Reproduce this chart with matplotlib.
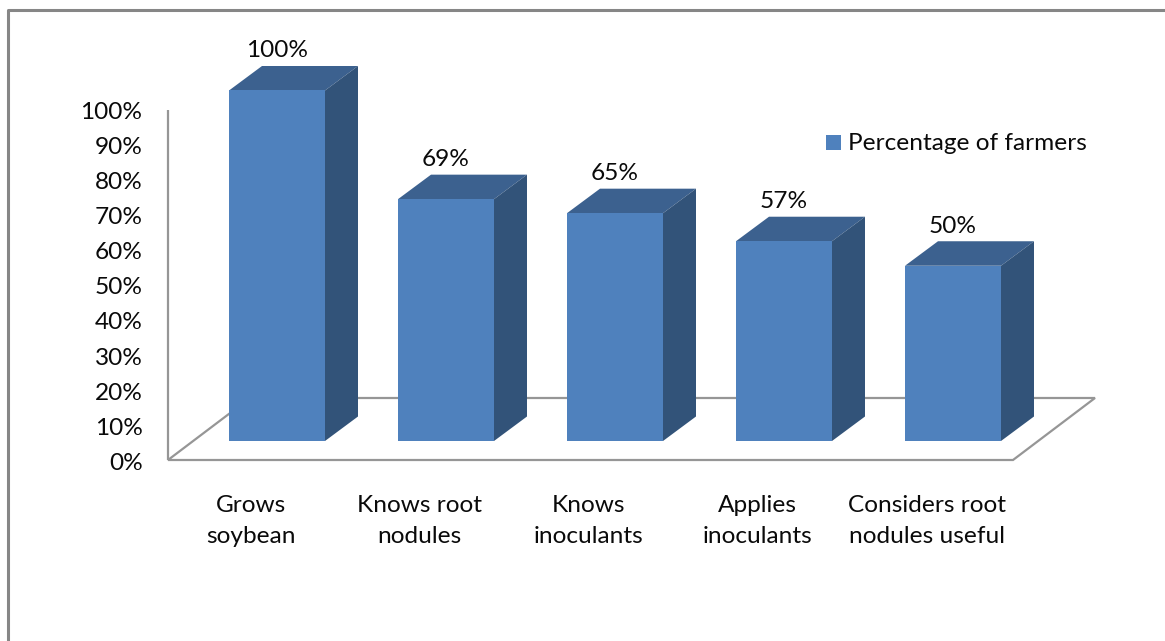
import matplotlib
matplotlib.use('Agg')
import matplotlib.pyplot as plt
from matplotlib.patches import Polygon, Rectangle

plt.rcParams['font.family'] = ['Lato', 'DejaVu Sans']

categories = ['Grows\nsoybean', 'Knows root\nnodules', 'Knows\ninoculants',
              'Applies\ninoculants', 'Considers root\nnodules useful']
values = [100, 69, 65, 57, 50]
value_labels = ['100%', '69%', '65%', '57%', '50%']
axis_ticks = [0, 10, 20, 30, 40, 50, 60, 70, 80, 90, 100]
series_name = 'Percentage of farmers'

FRONT = '#4f81bd'
TOP = '#3c618f'
SIDE = '#325379'
GRID = '#969696'
W, H = 1165, 641
FS = 17.6

# scale of the front plane of the bars, in pixels
PX_X = 169.0
PX_Y = 3.505
X0 = 277.0
Y0 = 441.0

fig = plt.figure(figsize=(W / 100, H / 100), dpi=100)
ax = fig.add_axes([0, 0, 1, 1])
ax.set_xlim(-X0 / PX_X, (W - X0) / PX_X)
ax.set_ylim(-(H - Y0) / PX_Y, Y0 / PX_Y)
ax.axis('off')

bar_w = 96 / PX_X
dx = 33 / PX_X   # depth of the bars
dy = 24.5 / PX_Y

# floor and wall: the wall sits a bit lower than the bars front plane
floor_dy = -19 / PX_Y
left = (168 - X0) / PX_X
right = (1013 - X0) / PX_X
fdx = 82 / PX_X
fdy = 62 / PX_Y
ax.plot([left, left], [floor_dy, floor_dy + 100], color=GRID, lw=1.6, solid_capstyle='butt')
ax.plot([left + fdx, right + fdx, right, left, left + fdx],
        [floor_dy + fdy, floor_dy + fdy, floor_dy, floor_dy, floor_dy + fdy],
        color=GRID, lw=1.6, solid_joinstyle='miter')

for i, v in enumerate(values):
    l, r = i - bar_w / 2, i + bar_w / 2
    ax.add_patch(Polygon([(l, v), (r, v), (r + dx, v + dy), (l + dx, v + dy)], fc=TOP, ec='none', zorder=3))
    ax.add_patch(Polygon([(r, 0), (r + dx, dy), (r + dx, v + dy), (r, v)], fc=SIDE, ec='none', zorder=3))
    ax.bar(i, v, width=bar_w, color=FRONT, zorder=4)
    ax.text(i, v + dy + 1.3, value_labels[i], ha='center', va='bottom', fontsize=FS, color='#0a0a0a')
    ax.text(i - 0.155, -(521 - Y0) / PX_Y, categories[i], ha='center', va='center',
            fontsize=FS, color='#0a0a0a', linespacing=1.55)

for t in axis_ticks:
    ax.text(-(277 - 142.5) / PX_X, floor_dy + t - 0.9, '%d%%' % t, ha='right', va='center', fontsize=FS, color='#0a0a0a')

# legend
ax.add_patch(Rectangle(((826 - X0) / PX_X, (Y0 - 150) / PX_Y), 15 / PX_X, 15 / PX_Y, fc=FRONT, ec='none'))
ax.text((848 - X0) / PX_X, (Y0 - 144) / PX_Y, series_name, ha='left', va='center', fontsize=FS, color='#0a0a0a')

# chart frame, only left and top are inside the picture
bl = 7.5
ax.plot([(bl - X0) / PX_X, (bl - X0) / PX_X, (W - X0) / PX_X],
        [-(H - Y0) / PX_Y, (Y0 - 10.5) / PX_Y, (Y0 - 10.5) / PX_Y],
        color='#868686', lw=2.2)

fig.savefig('out.png', dpi=100)
